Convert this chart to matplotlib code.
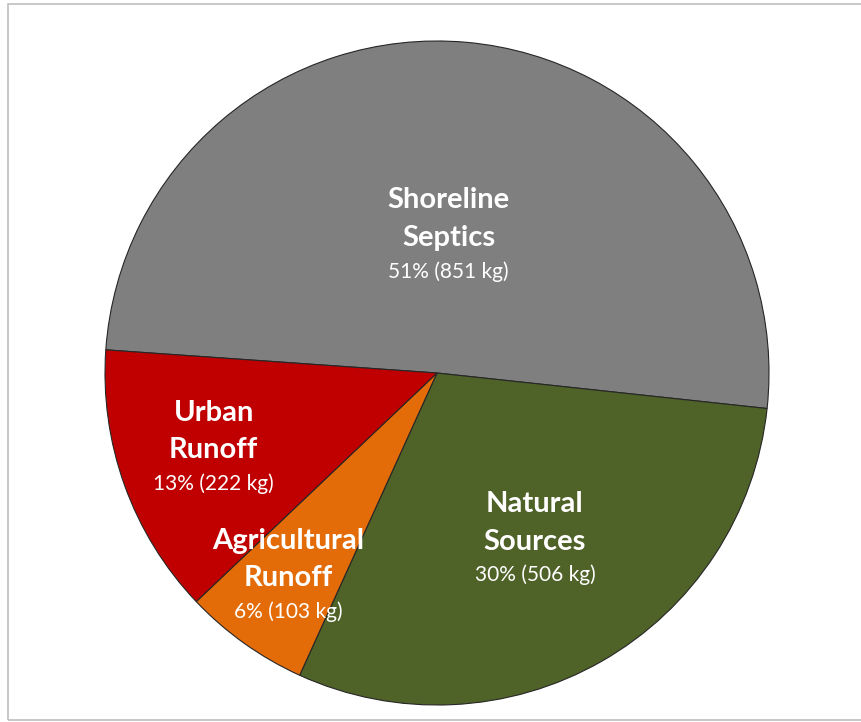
import matplotlib
matplotlib.use('Agg')
import numpy as np
import matplotlib.pyplot as plt
from matplotlib.patches import Rectangle

plt.rcParams['font.family'] = ['Lato', 'DejaVu Sans']

sources = ['Shoreline\nSeptics', 'Natural\nSources', 'Agricultural\nRunoff', 'Urban\nRunoff']
loads_kg = [851, 506, 103, 222]
colors = ['#7F7F7F', '#4F6228', '#E36C09', '#C00000']

# label distance from centre (fraction of radius), per slice
label_dist = [0.40, 0.595, 0.77, 0.715]

W, H = 862, 722
fig = plt.figure(figsize=(W / 100, H / 100), dpi=100)

cx, cy, r = 437, 373, 332
ax = fig.add_axes([(cx - r) / W, (H - cy - r) / H, 2 * r / W, 2 * r / H])

wedges, _ = ax.pie(loads_kg, colors=colors, startangle=176, counterclock=False,
                   radius=1.0, wedgeprops=dict(edgecolor='#262626', linewidth=0.8))
ax.set_xlim(-1, 1)
ax.set_ylim(-1, 1)
ax.set_aspect('equal')
ax.axis('off')

total = sum(loads_kg)
for w, name, val, d in zip(wedges, sources, loads_kg, label_dist):
    mid = np.deg2rad((w.theta1 + w.theta2) / 2)
    x, y = d * np.cos(mid), d * np.sin(mid)
    pct = round(100 * val / total)
    ax.text(x, y + 0.065, name, ha='center', va='center', color='white',
            fontsize=21, fontweight='bold', linespacing=1.55)
    ax.text(x, y - 0.092, f'{pct}% ({val} kg)', ha='center', va='center',
            color='white', fontsize=15)

fig.patches.append(Rectangle((8 / W, 2 / H), 1.0, (716) / H, transform=fig.transFigure,
                             fill=False, edgecolor='#BFBFBF', linewidth=1.2))

fig.savefig('out.png', dpi=100)
